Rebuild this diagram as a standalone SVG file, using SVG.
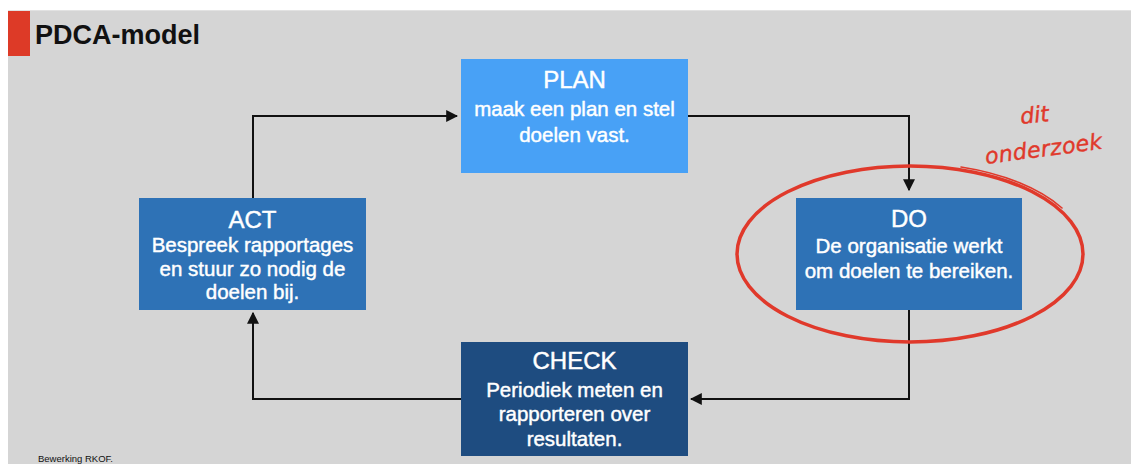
<svg xmlns="http://www.w3.org/2000/svg" width="1131" height="464" viewBox="0 0 1131 464">
<style>
.box-title{font-family:"Liberation Sans",Arial,sans-serif;font-size:24px;fill:#fff;stroke:#fff;stroke-width:0.45px;text-anchor:middle}
.box-text{font-family:"Liberation Sans",Arial,sans-serif;font-size:20.5px;fill:#fff;stroke:#fff;stroke-width:0.45px;text-anchor:middle}
.conn{fill:none;stroke:#111;stroke-width:2}
.hand{font-family:"DejaVu Sans",sans-serif;font-style:italic;fill:#E0392B;stroke:#E0392B;stroke-width:0.4px}
</style>
<defs>
<marker id="arrow" viewBox="0 0 10 10" refX="9" refY="5" markerWidth="6" markerHeight="6" markerUnits="strokeWidth" orient="auto">
<path d="M0,0 L10,5 L0,10 z" fill="#111"/>
</marker>
</defs>
<rect x="0" y="0" width="1131" height="464" fill="#ffffff"/>
<rect x="8" y="10" width="1123" height="454" fill="#D5D5D5"/>
<rect x="8" y="10" width="1123" height="1" fill="#E2E2E2"/>
<rect x="8" y="11" width="22" height="45" fill="#DD3A27"/>
<text x="35" y="44" font-family="Liberation Sans,Arial,sans-serif" font-weight="bold" font-size="27" fill="#111">PDCA-model</text>

<g id="connectors">
<path class="conn" d="M253,198 V116 H457" marker-end="url(#arrow)"/>
<path class="conn" d="M688,116 H909 V190" marker-end="url(#arrow)"/>
<path class="conn" d="M909,310 V399 H691" marker-end="url(#arrow)"/>
<path class="conn" d="M461,399 H253 V313" marker-end="url(#arrow)"/>
</g>

<g id="plan">
<rect x="461" y="59" width="227" height="114" fill="#48A1F6"/>
<text class="box-title" x="574.5" y="88">PLAN</text>
<text class="box-text" x="574.5" y="116">maak een plan en stel</text>
<text class="box-text" x="574.5" y="142">doelen vast.</text>
</g>

<g id="do">
<rect x="796" y="198" width="226" height="112" fill="#2E72B6"/>
<text class="box-title" x="909" y="227">DO</text>
<text class="box-text" x="909" y="253">De organisatie werkt</text>
<text class="box-text" x="909" y="278">om doelen te bereiken.</text>
</g>

<g id="check">
<rect x="461" y="342" width="227" height="114" fill="#1E4C80"/>
<text class="box-title" x="574.5" y="369">CHECK</text>
<text class="box-text" x="574.5" y="397">Periodiek meten en</text>
<text class="box-text" x="574.5" y="421">rapporteren over</text>
<text class="box-text" x="574.5" y="446">resultaten.</text>
</g>

<g id="act">
<rect x="139" y="198" width="227" height="112" fill="#2E72B6"/>
<text class="box-title" x="252.5" y="228">ACT</text>
<text class="box-text" x="252.5" y="252">Bespreek rapportages</text>
<text class="box-text" x="252.5" y="276">en stuur zo nodig de</text>
<text class="box-text" x="252.5" y="299">doelen bij.</text>
</g>

<g id="annotation">
<ellipse cx="910" cy="254" rx="173" ry="88" fill="none" stroke="#E0392B" stroke-width="3.5"/>
<path d="M961,167 A176 91 0 0 1 1062,208" fill="none" stroke="#E0392B" stroke-width="1.6" stroke-linecap="round"/>
<text class="hand" x="1021" y="124" font-size="22" transform="rotate(-6 1021 124)">dit</text>
<text class="hand" x="986" y="164" font-size="22" textLength="118" transform="rotate(-7.5 986 164)">onderzoek</text>
</g>

<text x="38" y="462" font-family="Liberation Sans,Arial,sans-serif" font-size="9.5" fill="#111">Bewerking RKOF.</text>
</svg>
